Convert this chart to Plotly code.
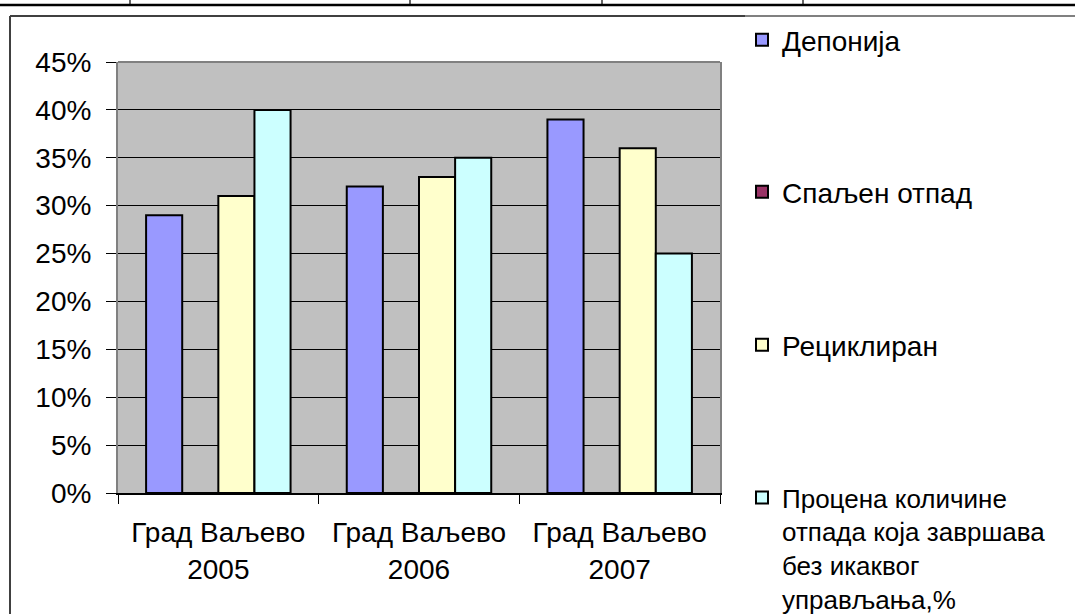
import plotly.graph_objects as go

# ---- data ----
categories = ["Град Ваљево<br>2005", "Град Ваљево<br>2006", "Град Ваљево<br>2007"]
series_names = [
    "Депонија",
    "Спаљен отпад",
    "Рециклиран",
    "Процена количине<br>отпада која завршава<br>без икаквог<br>управљања,%",
]
deponija = [0.29, 0.32, 0.39]
spaljen = [0.0, 0.0, 0.0]
recikliran = [0.31, 0.33, 0.36]
procena = [0.40, 0.35, 0.25]
y_tick_vals = [0, 0.05, 0.10, 0.15, 0.20, 0.25, 0.30, 0.35, 0.40, 0.45]
y_tick_text = ["0%", "5%", "10%", "15%", "20%", "25%", "30%", "35%", "40%", "45%"]

colors = ["#9999FF", "#993366", "#FFFFCC", "#CCFFFF"]
series_values = [deponija, spaljen, recikliran, procena]
legend_ids = ["legend", "legend2", "legend3", "legend4"]

W, H = 1075, 614
L, R, T, B = 118, 720, 62, 493
FONT = "Liberation Sans, Arial, sans-serif"
FS = 28


def px(xp):
    return (xp - L) / (R - L)


def py(yp):
    return (B - yp) / (B - T)


fig = go.Figure()
for name, vals, col, lg in zip(series_names, series_values, colors, legend_ids):
    fig.add_trace(go.Bar(
        x=categories, y=vals, name=name,
        marker=dict(color=col, line=dict(color="#000000", width=2)),
        legend=lg, showlegend=True, hoverinfo="skip",
    ))

shapes = []
# table lines at the top of the page
shapes.append(dict(type="line", xref="paper", yref="paper", x0=px(-5), x1=px(W + 5), y0=py(5), y1=py(5),
                   line=dict(color="#000000", width=2.5)))
for vx in [130, 410, 602, 803]:
    shapes.append(dict(type="line", xref="paper", yref="paper", x0=px(vx), x1=px(vx), y0=py(-2), y1=py(5),
                       line=dict(color="#000000", width=1.2)))
# chart frame
shapes.append(dict(type="line", xref="paper", yref="paper", x0=px(10), x1=px(10), y0=py(16), y1=py(H + 5),
                   line=dict(color="#404040", width=2)))
shapes.append(dict(type="line", xref="paper", yref="paper", x0=px(10), x1=px(745), y0=py(16), y1=py(16),
                   line=dict(color="#404040", width=2)))
shapes.append(dict(type="line", xref="paper", yref="paper", x0=px(745), x1=px(W + 5), y0=py(16), y1=py(16),
                   line=dict(color="#808080", width=2)))
# plot area top edge (gray border)
shapes.append(dict(type="line", xref="paper", yref="paper", x0=0, x1=1, y0=1, y1=1,
                   line=dict(color="#808080", width=2)))

leg_font = dict(family=FONT, size=FS, color="#000000")
leg_x = px(742)
leg_common = dict(x=leg_x, xanchor="left", bgcolor="rgba(0,0,0,0)",
                  itemclick=False, itemdoubleclick=False)

fig.update_layout(
    width=W, height=H,
    margin=dict(l=L, r=W - R, t=T, b=H - B, pad=0, autoexpand=False),
    paper_bgcolor="#FFFFFF",
    plot_bgcolor="#C0C0C0",
    barmode="group",
    bargap=0.28,
    bargroupgap=0,
    showlegend=True,
    font=dict(family=FONT, size=FS, color="#000000"),
    shapes=shapes,
    legend=dict(y=py(40), yanchor="middle", font=leg_font, **leg_common),
    legend2=dict(y=py(192), yanchor="middle", font=leg_font, **leg_common),
    legend3=dict(y=py(345), yanchor="middle", font=leg_font, **leg_common),
    legend4=dict(y=py(474), yanchor="top", valign="top",
                 font=dict(family=FONT, size=26, color="#000000"), **leg_common),
)

fig.update_xaxes(
    type="category",
    showline=True, linecolor="#000000", linewidth=1.5,
    ticks="outside", ticklen=9, tickcolor="#000000", tickwidth=1.2,
    tickson="boundaries",
    showgrid=False,
    tickfont=dict(family=FONT, size=FS, color="#000000"),
    ticklabelstandoff=14,
    automargin=False,
)
fig.update_yaxes(
    range=[0, 0.45],
    tickvals=y_tick_vals, ticktext=y_tick_text,
    showline=True, linecolor="#808080", linewidth=2, mirror=True,
    ticks="outside", ticklen=10, tickcolor="#000000", tickwidth=1.2,
    showgrid=True, gridcolor="#000000", gridwidth=1,
    zeroline=False,
    tickfont=dict(family=FONT, size=FS, color="#000000"),
    ticklabelstandoff=9,
    automargin=False,
)

fig.write_html(
    "out.html",
    config={"displayModeBar": False},
    post_script="document.body.style.margin='0px';document.body.style.overflow='hidden';",
)
